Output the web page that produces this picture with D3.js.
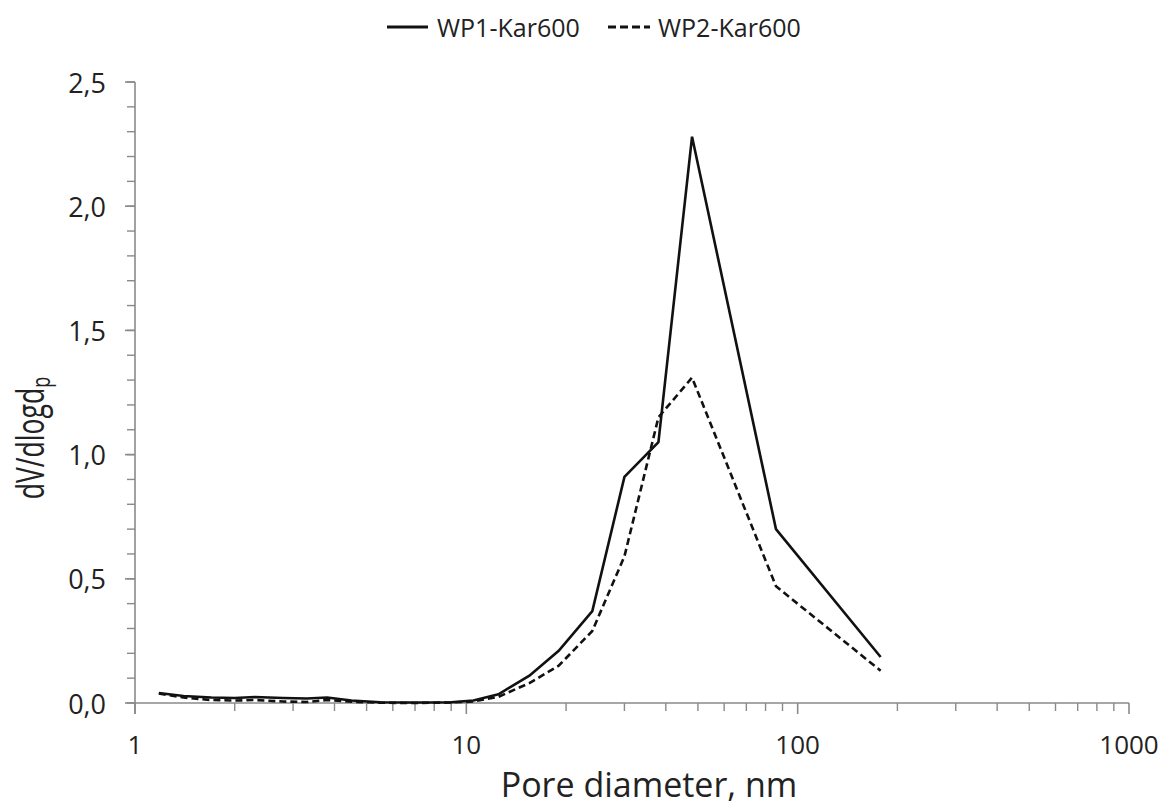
<!DOCTYPE html>
<html>
<head>
<meta charset="utf-8">
<script src="https://cdn.jsdelivr.net/npm/d3@7"></script>
<style>
  body { margin: 0; background: #fff; }
  text { font-family: "Open Sans", sans-serif; fill: #222; }
</style>
</head>
<body>
<div class="canva"></div>
<script>
// pore diameters (nm) shared by both series
const diameters = [1.18, 1.4, 1.7, 2.0, 2.3, 2.8, 3.3, 3.8, 4.5, 5.5, 7, 9, 10.5, 12.5, 15.5, 19, 24, 30, 38, 48, 86, 178];
const wp1 = [0.04, 0.028, 0.022, 0.02, 0.024, 0.02, 0.018, 0.022, 0.01, 0.003, 0.002, 0.003, 0.01, 0.035, 0.11, 0.21, 0.37, 0.91, 1.05, 2.28, 0.70, 0.185];
const wp2 = [0.038, 0.022, 0.012, 0.01, 0.012, 0.006, 0.004, 0.012, 0.005, 0.001, 0, 0.002, 0.006, 0.025, 0.08, 0.15, 0.29, 0.59, 1.15, 1.31, 0.47, 0.13];
const seriesNames = ["WP1-Kar600", "WP2-Kar600"];
const xTicks = [1, 10, 100, 1000];
const yTicks = [0, 0.5, 1.0, 1.5, 2.0, 2.5];

const svg = d3.select(".canva").append("svg")
  .attr("width", 1166)
  .attr("height", 808);

const margin = {top: 82, left: 135, right: 37, bottom: 105};
const width = 1166 - margin.left - margin.right;
const height = 808 - margin.top - margin.bottom;

const g = svg.append("g").attr("transform", `translate(${margin.left}, ${margin.top})`);

const x = d3.scaleLog().domain([1, 1000]).range([0, width]);
const y = d3.scaleLinear().domain([0, 2.5]).range([height, 0]);

const axisColor = "#8a8a8a";

// x minor ticks (log subdivisions)
const xMinor = [];
[1, 10, 100].forEach(dec => { for (let k = 2; k <= 9; k++) xMinor.push(dec * k); });

const xAxis = g.append("g").attr("transform", `translate(0, ${height})`);
xAxis.append("line").attr("x1", 0).attr("x2", width).attr("stroke", axisColor).attr("stroke-width", 1.6);
xAxis.selectAll(".minor").data(xMinor).enter().append("line")
  .attr("x1", d => x(d)).attr("x2", d => x(d)).attr("y1", 0).attr("y2", 8)
  .attr("stroke", axisColor).attr("stroke-width", 1.4);
xAxis.selectAll(".major").data(xTicks).enter().append("line")
  .attr("x1", d => x(d)).attr("x2", d => x(d)).attr("y1", 0).attr("y2", 11)
  .attr("stroke", axisColor).attr("stroke-width", 1.6);
xAxis.selectAll(".lab").data(xTicks).enter().append("text")
  .attr("x", d => x(d)).attr("y", 51)
  .attr("text-anchor", "middle")
  .style("font-size", "26px")
  .text(d => d);

// y axis with minor ticks every 0.1
const yMinor = d3.range(0, 26).map(i => i / 10);
const yAxis = g.append("g");
yAxis.append("line").attr("y1", 0).attr("y2", height + 11).attr("stroke", axisColor).attr("stroke-width", 1.6);
yAxis.selectAll(".minor").data(yMinor).enter().append("line")
  .attr("y1", d => y(d)).attr("y2", d => y(d)).attr("x1", -8).attr("x2", 0)
  .attr("stroke", axisColor).attr("stroke-width", 1.4);
yAxis.selectAll(".major").data(yTicks).enter().append("line")
  .attr("y1", d => y(d)).attr("y2", d => y(d)).attr("x1", -10).attr("x2", 0)
  .attr("stroke", axisColor).attr("stroke-width", 1.6);
yAxis.selectAll(".lab").data(yTicks).enter().append("text")
  .attr("x", -29).attr("y", d => y(d))
  .attr("text-anchor", "end")
  .attr("dominant-baseline", "central")
  .style("font-size", "27px")
  .text(d => d3.format(".1f")(d).replace(".", ","));

// axis titles
svg.append("text")
  .attr("x", 649).attr("y", 797)
  .attr("text-anchor", "middle")
  .style("font-size", "34px")
  .text("Pore diameter, nm");

// y title: condensed to match the narrow font of the original
const yTitle = svg.append("text")
  .attr("transform", "translate(44, 438) rotate(-90) scale(0.7, 1)")
  .attr("text-anchor", "middle")
  .style("font-size", "38px");
yTitle.append("tspan").text("dV/dlogd");
yTitle.append("tspan").attr("dy", 6).style("font-size", "26px").text("p");

// lines
const line = d3.line().x((d, i) => x(diameters[i])).y(d => y(d));

g.append("path").datum(wp1)
  .attr("d", line).attr("fill", "none")
  .attr("stroke", "#111").attr("stroke-width", 2.6)
  .attr("stroke-linejoin", "miter");

g.append("path").datum(wp2)
  .attr("d", line).attr("fill", "none")
  .attr("stroke", "#111").attr("stroke-width", 2.6)
  .attr("stroke-dasharray", "7,4");

// legend
const legend = svg.append("g").attr("transform", "translate(387, 27)");
legend.append("line").attr("x1", 0).attr("x2", 41).attr("stroke", "#111").attr("stroke-width", 2.8);
legend.append("text").attr("x", 50).attr("y", 0).attr("dominant-baseline", "central")
  .style("font-size", "25px").text(seriesNames[0]);
legend.append("line").attr("x1", 221).attr("x2", 263).attr("stroke", "#111").attr("stroke-width", 2.8)
  .attr("stroke-dasharray", "8,4");
legend.append("text").attr("x", 271).attr("y", 0).attr("dominant-baseline", "central")
  .style("font-size", "25px").text(seriesNames[1]);
</script>
</body>
</html>
